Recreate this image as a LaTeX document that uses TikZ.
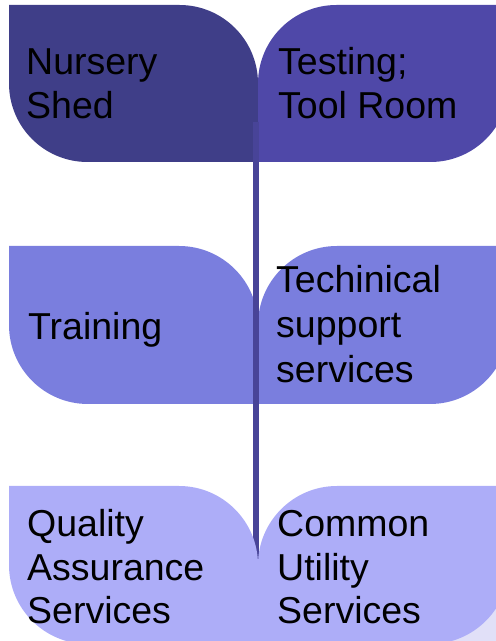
\documentclass[tikz,border=0pt]{standalone}
\usepackage{fontspec}
\setmainfont{Liberation Sans}
\definecolor{topL}{RGB}{63,62,136}
\definecolor{topR}{RGB}{79,72,168}
\definecolor{midC}{RGB}{122,126,222}
\definecolor{botC}{RGB}{173,173,248}
\definecolor{stemC}{RGB}{72,68,152}
\definecolor{cornerC}{RGB}{225,224,248}
\begin{document}
\begin{tikzpicture}[x=1pt,y=1pt,
  lbl/.style={anchor=base west, inner sep=0pt, text=black,
    font=\fontsize{37.5}{43.5}\selectfont},
  stemline/.style={draw=stemC, line width=6pt}]
\useasboundingbox (0,0) rectangle (496,641);
\begin{scope}
\clip (0,0) rectangle (496,641);
\fill[cornerC] (425,0) rectangle (496,45);
% top row
\fill[topL] (9,636) -- (179.5,636) arc[start angle=90,end angle=0,radius=78.5pt]
  -- (258,479) -- (87.5,479) arc[start angle=270,end angle=180,radius=78.5pt] -- cycle;
\fill[topR] (258,557.5) arc[start angle=180,end angle=90,radius=78.5pt]
  -- (509,636) -- (509,557.5) arc[start angle=0,end angle=-90,radius=78.5pt]
  -- (258,479) -- cycle;
% middle row
\fill[midC] (9,395) -- (179,395) arc[start angle=90,end angle=0,radius=79pt]
  -- (258,237) -- (88,237) arc[start angle=270,end angle=180,radius=79pt] -- cycle;
\fill[midC] (258,316) arc[start angle=180,end angle=90,radius=79pt]
  -- (509,395) -- (509,316) arc[start angle=0,end angle=-90,radius=79pt]
  -- (258,237) -- cycle;
% stem
\coordinate (stemtop) at (256,519);
\coordinate (stembot) at (256,81);
\draw[stemline] (stemtop) -- (stembot);
% bottom row
\fill[botC] (9,155) -- (179,155) arc[start angle=90,end angle=0,radius=79pt]
  -- (258,-3) -- (88,-3) arc[start angle=270,end angle=180,radius=79pt] -- cycle;
\fill[botC] (258,76) arc[start angle=180,end angle=90,radius=79pt]
  -- (509,155) -- (509,76) arc[start angle=0,end angle=-90,radius=79pt]
  -- (258,-3) -- cycle;
\end{scope}
% labels
\node[lbl] (t1) at (26,566) {\vtop{\hbox{Nursery}\hbox{Shed}}};
\node[lbl] (t2) at (278,566) {\vtop{\hbox{Testing;}\hbox{Tool Room}}};
\node[lbl] (t3) at (28,301) {Training};
\node[lbl] (t4) at (276,348) {\vtop{\baselineskip=45pt\hbox{Techinical}\hbox{support}\hbox{services}}};
\node[lbl] (t5) at (27,104) {\vtop{\hbox{Quality}\hbox{Assurance}\hbox{Services}}};
\node[lbl] (t6) at (277,104) {\vtop{\hbox{Common}\hbox{Utility}\hbox{Services}}};
\end{tikzpicture}
\end{document}
